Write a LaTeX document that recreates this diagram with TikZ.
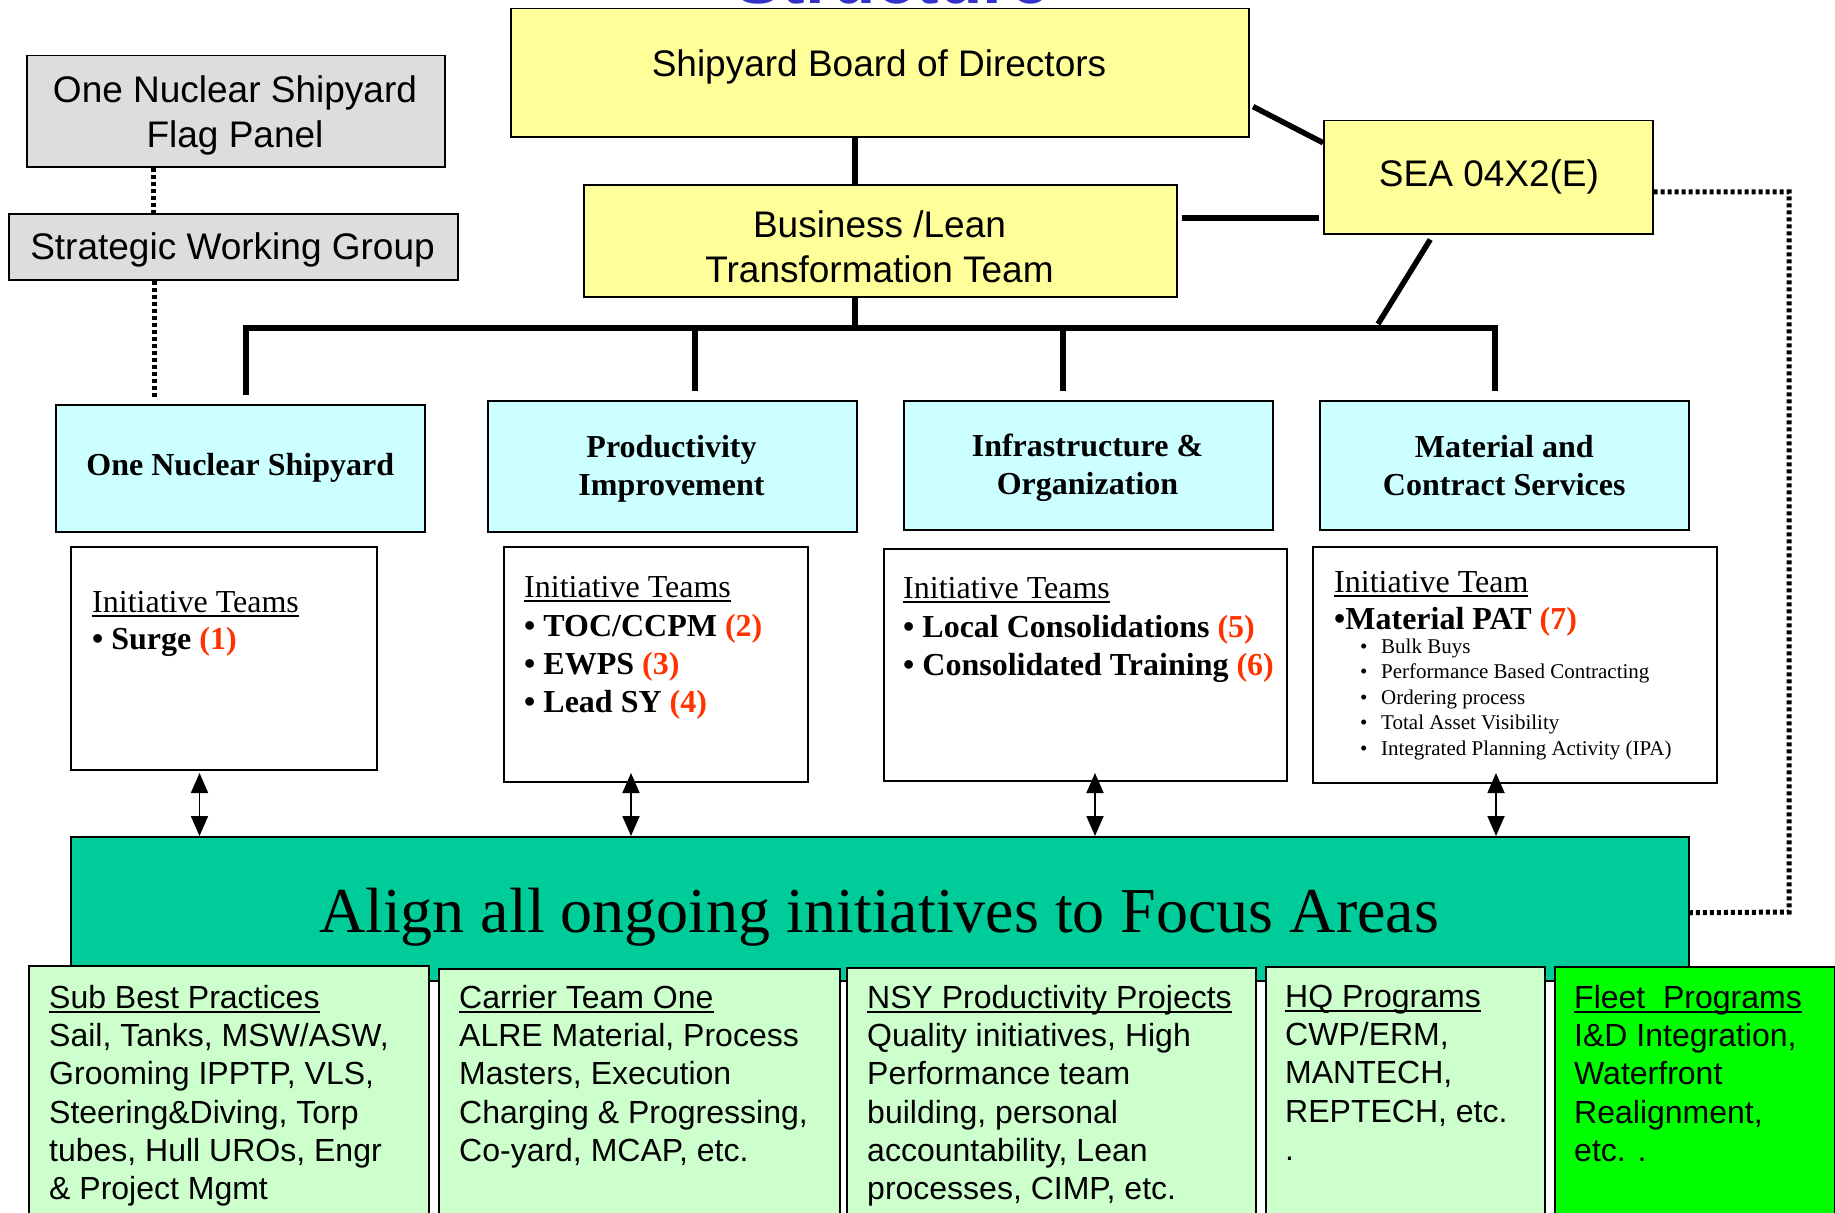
\documentclass[tikz,border=0pt]{standalone}
\usepackage{fontspec}
\setmainfont{Liberation Serif}
\setsansfont{Liberation Sans}
\usetikzlibrary{arrows.meta}

\definecolor{boardyellow}{RGB}{255,255,153}
\definecolor{panelgray}{RGB}{221,221,221}
\definecolor{areacyan}{RGB}{204,255,255}
\definecolor{focusteal}{RGB}{0,204,153}
\definecolor{progmint}{RGB}{204,255,204}
\definecolor{fleetgreen}{RGB}{0,255,0}
\definecolor{numred}{RGB}{255,51,0}
\definecolor{titleblue}{RGB}{51,51,204}

\newlength{\ulheadwd}
\newcommand{\ulhead}[1]{\settowidth{\ulheadwd}{#1}\rlap{#1}\rule[-4.5pt]{\ulheadwd}{1.6pt}}
\newcommand{\teamno}[1]{\textcolor{numred}{#1}}

\begin{document}
\begin{tikzpicture}[x=1pt,y=-1pt,
  box/.style={draw,line width=1.5pt,inner sep=0pt,align=center,anchor=north west},
  toptext/.style={font=\sffamily\fontsize{37}{45}\selectfont},
  areatext/.style={font=\bfseries\fontsize{32}{38}\selectfont},
  teamtext/.style={font=\fontsize{32}{38}\selectfont,anchor=base west,inner sep=0pt},
  itemtext/.style={teamtext,font=\bfseries\fontsize{32}{38}\selectfont},
  subtext/.style={font=\fontsize{21}{25}\selectfont,anchor=base west,inner sep=0pt},
  progtext/.style={font=\sffamily\fontsize{32}{38.2}\selectfont,anchor=north west,inner sep=0pt,align=left},
  conn/.style={line width=5.5pt},
  dotline/.style={line width=5pt,dash pattern=on 4pt off 3pt},
  twoway/.style={line width=1.8pt,{Triangle[length=20pt,width=17pt]}-{Triangle[length=20pt,width=17pt]}}]
\useasboundingbox (0,0) rectangle (1835,1212);

\node[anchor=base,inner sep=0pt,text=titleblue,font=\sffamily\bfseries\fontsize{71}{80}\selectfont] (title) at (892,4) {Structure};

\node[box,fill=panelgray,minimum width=418pt,minimum height=111pt] (flag) at (26,55) {};
\node[toptext,align=center] (flagtext) at (235,115) {One Nuclear Shipyard\\Flag Panel};
\node[box,fill=panelgray,minimum width=449pt,minimum height=66pt] (swg) at (8,213) {};
\node[toptext,anchor=base] (swgtext) at (232.5,259) {Strategic Working Group};
\node[box,fill=boardyellow,minimum width=738pt,minimum height=128pt] (board) at (510,8) {};
\node[toptext,anchor=base] (boardtext) at (879,77) {Shipyard Board of Directors};
\node[box,fill=boardyellow,minimum width=593pt,minimum height=112pt] (biz) at (583,184) {};
\node[toptext,align=center] (biztext) at (879.5,247) {Business /Lean\\Transformation Team};
\node[box,fill=boardyellow,minimum width=329pt,minimum height=113pt] (sea) at (1323,120) {};
\node[toptext,anchor=base] (seatext) at (1489,186) {SEA 04X2(E)};

\node[box,fill=areacyan,minimum width=369pt,minimum height=127pt,areatext] (ons) at (55,404) {One Nuclear Shipyard};
\node[box,fill=areacyan,minimum width=369pt,minimum height=131pt] (prod) at (487,400) {};
\node[areatext,align=center] (prodtext) at (671.5,469) {Productivity\\Improvement};
\node[box,fill=areacyan,minimum width=369pt,minimum height=129pt] (infra) at (903,400) {};
\node[areatext,align=center] (infratext) at (1087.5,468) {Infrastructure \&\\Organization};
\node[box,fill=areacyan,minimum width=369pt,minimum height=129pt,areatext] (mat) at (1319,400) {Material and\\Contract Services};

\node[box,minimum width=306pt,minimum height=223pt] (it1) at (70,546) {};
\node[box,minimum width=304pt,minimum height=235pt] (it2) at (503,546) {};
\node[box,minimum width=403pt,minimum height=232pt] (it3) at (883,548) {};
\node[box,minimum width=404pt,minimum height=236pt] (it4) at (1312,546) {};

\node[teamtext] (it1head) at (92,612) {\ulhead{Initiative Teams}};
\node[itemtext] (surge) at (92,649) {\textbullet\ Surge \teamno{(1)}};
\node[teamtext] (it2head) at (524,597) {\ulhead{Initiative Teams}};
\node[itemtext] (toc) at (524,636) {\textbullet\ TOC/CCPM \teamno{(2)}};
\node[itemtext] (ewps) at (524,674) {\textbullet\ EWPS \teamno{(3)}};
\node[itemtext] (leadsy) at (524,712) {\textbullet\ Lead SY \teamno{(4)}};
\node[teamtext] (it3head) at (903,598) {\ulhead{Initiative Teams}};
\node[itemtext] (local) at (903,637) {\textbullet\ Local Consolidations \teamno{(5)}};
\node[itemtext] (training) at (903,675) {\textbullet\ Consolidated Training \teamno{(6)}};
\node[teamtext] (it4head) at (1334,592) {\ulhead{Initiative Team}};
\node[itemtext] (pat) at (1334,629) {\textbullet Material PAT \teamno{(7)}};
\foreach \t [count=\i] in {Bulk Buys, Performance Based Contracting, Ordering process, Total Asset Visibility, Integrated Planning Activity (IPA)}
  \node[subtext] (pat\i) at (1360,627.5+25.5*\i) {\makebox[21pt][l]{\textbullet}\t};

\node[box,fill=focusteal,minimum width=1618pt,minimum height=144pt] (band) at (70,836) {};
\node[font=\fontsize{64}{70}\selectfont,anchor=base,inner sep=0pt] (aligntext) at (879,932) {Align all ongoing initiatives to Focus Areas};

\node[box,fill=progmint,minimum width=400pt,minimum height=280pt] (subbp) at (28,965) {};
\node[box,fill=progmint,minimum width=401pt,minimum height=280pt] (cto) at (438,968) {};
\node[box,fill=progmint,minimum width=409pt,minimum height=280pt] (nsy) at (846,967) {};
\node[box,fill=progmint,minimum width=279pt,minimum height=280pt] (hq) at (1265,966) {};
\node[box,fill=fleetgreen,minimum width=280pt,minimum height=280pt] (fleet) at (1554,966) {};
\node[progtext] (subbptext) at (49,985) {\ulhead{Sub Best Practices}\\Sail, Tanks, MSW/ASW,\\Grooming IPPTP, VLS,\\Steering\&Diving, Torp\\tubes, Hull UROs, Engr\\\& Project Mgmt};
\node[progtext] (ctotext) at (459,985) {\ulhead{Carrier Team One}\\ALRE Material, Process\\Masters, Execution\\Charging \& Progressing,\\Co-yard, MCAP, etc.};
\node[progtext] (nsytext) at (867,985) {\ulhead{NSY Productivity Projects}\\Quality initiatives, High\\Performance team\\building, personal\\accountability, Lean\\processes, CIMP, etc.};
\node[progtext] (hqtext) at (1285,985) {\ulhead{HQ Programs}\\CWP/ERM,\\MANTECH,\\REPTECH, etc.\\.};
\node[progtext] (fleettext) at (1574,985) {\ulhead{Fleet\ \ Programs}\\I\&D Integration,\\Waterfront\\Realignment,\\etc. .};

\coordinate (trunk) at (855,328);
\draw[conn] (board.south -| trunk) -- (biz.north -| trunk);
\draw[conn] (biz.south -| trunk) -- (trunk);
\foreach \x/\b in {246/ons,695/prod,1063/infra,1495/mat} {
  \coordinate (drop-\b) at (\x,328);
  \draw[conn,shorten >=9pt] (drop-\b) -- (drop-\b |- \b.north);
}
\draw[conn,line cap=rect] (drop-ons) -- (drop-mat);
\draw[conn,shorten <=4pt] ([yshift=-32pt]board.east) -- ([yshift=34.5pt]sea.west);
\draw[conn,shorten <=4pt,shorten >=4pt] ([yshift=23pt]biz.east) -- ([yshift=23pt]biz.east -| sea.west);
\coordinate (seafoot) at (1378,324);
\draw[conn] ([xshift=-58pt,yshift=-5pt]sea.south) -- (seafoot);

\draw[dotline] ([xshift=-82pt]flag.south) -- ([xshift=-82pt]flag.south |- swg.north);
\draw[dotline,shorten >=6pt] ([xshift=-78.5pt]swg.south) -- ([xshift=-78.5pt]swg.south |- ons.north);
\coordinate (loopR) at (1789,912);
\draw[dotline] ([yshift=-14.5pt]sea.east) -| (loopR) -- ([yshift=-4pt]band.east);

\foreach \x [count=\i] in {199.5,631,1095,1496} {
  \coordinate (tip\i) at (\x,773);
  \draw[twoway] (tip\i) -- (tip\i |- band.north);
}
\end{tikzpicture}
\end{document}
